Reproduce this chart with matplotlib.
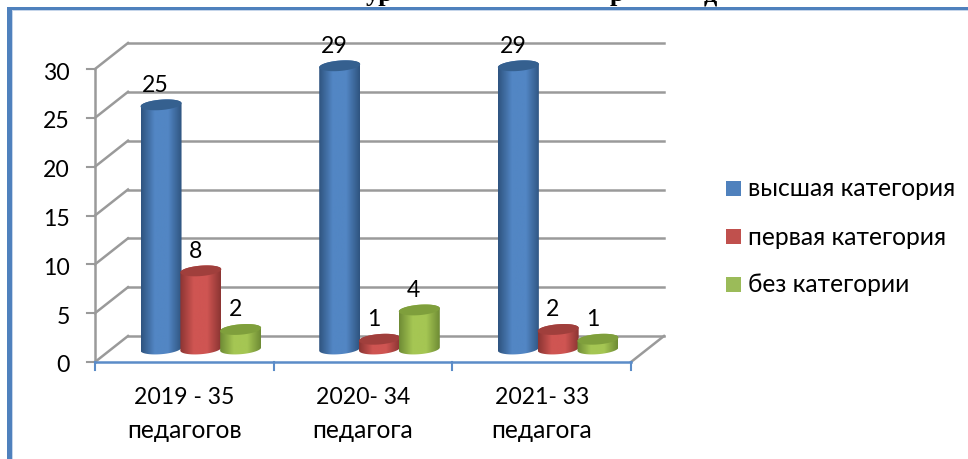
import numpy as np
import matplotlib
matplotlib.use('Agg')
import matplotlib.pyplot as plt
from matplotlib.path import Path
from matplotlib.patches import PathPatch, Rectangle
from matplotlib.colors import LinearSegmentedColormap

cat_years = ['2019 - 35', '2020- 34', '2021- 33']
cat_words = ['педагогов', 'педагога', 'педагога']
series_names = ['высшая категория', 'первая категория', 'без категории']
vysshaya = [25, 29, 29]
pervaya = [8, 1, 2]
bez_kat = [2, 4, 1]
yticks = [0, 5, 10, 15, 20, 25, 30]

# edge, middle, cap, legend colour of each series
palette = [('#2f5480', '#5286c4', '#35608f', '#4f81bd'),
           ('#8c3533', '#cf5552', '#a03f3c', '#c0504d'),
           ('#6f8c35', '#a5c653', '#7f9f3c', '#9bbb59')]

W, H = 968, 459
plt.rcParams['font.family'] = ['Lato', 'Open Sans']
FS_NUM = 16.6
FS_TXT = 17.7
fig = plt.figure(figsize=(W / 100, H / 100), dpi=100)

# bottoms of the heading letters, cut off by the picture edge
for xp, s in [(366, 'ур'), (610, 'р'), (704, 'д')]:
    fig.text(xp / W, 1 - 1 / H, s, family='Liberation Serif', weight='bold', fontsize=19,
             ha='left', va='baseline')

# page frame
fig.add_artist(Rectangle((12 / W, 0), 1 / W, 1 - 10 / H, color='#c5d5ea', lw=0))
fig.add_artist(Rectangle((12 / W, 1 - 11 / H), 1 - 12 / W, 1 / H, color='#c5d5ea', lw=0))
fig.add_artist(Rectangle((7 / W, 0), 5 / W, 1 - 7 / H, color='#4f81bd', lw=0))
fig.add_artist(Rectangle((7 / W, 1 - 10 / H), 1 - 7 / W, 3 / H, color='#4f81bd', lw=0))

# axes = front plane of the 3d box, y range goes on above 30 so the tallest bars fit
x0, x1, y0, y30 = 95, 631, 362, 69
ymax = 35
ppu = (y0 - y30) / 30
ax = fig.add_axes([x0 / W, 1 - y0 / H, (x1 - x0) / W, ymax * ppu / H])
ax.set_xlim(0, 3)
ax.set_ylim(0, ymax)
ax.axis('off')

px = 3 / (x1 - x0)      # data units per pixel
py = 1 / ppu
dx, dy = 33 * px, 26 * py   # depth of the box

grid = '#9a9a9a'
for v in yticks:
    ax.plot([0, dx], [v, v + dy], color=grid, lw=1.8, clip_on=False, zorder=1)
    ax.plot([dx, 3 + dx], [v + dy, v + dy], color=grid, lw=1.8, clip_on=False, zorder=1)
    ax.plot([-8 * px, 0], [v, v], color=grid, lw=1.5, clip_on=False, zorder=1)
    ax.text(-25 * px, v - 4 * py, str(v), ha='right', va='center', fontsize=FS_NUM)
ax.plot([0, 0], [0, 30], color=grid, lw=1.8, clip_on=False, zorder=1)
ax.plot([3, 3 + dx], [0, dy], color=grid, lw=1.8, clip_on=False, zorder=1)
ax.plot([0, 3], [0, 0], color='#5b8cc8', lw=1.8, clip_on=False, zorder=2)
for i in range(4):
    ax.plot([i, i], [0, -8 * py], color='#5b8cc8', lw=1.5, clip_on=False, zorder=2)
for i in range(3):
    ax.text(i + 0.5, -36 * py, cat_years[i], ha='center', va='center', fontsize=FS_NUM, clip_on=False)
    ax.text(i + 0.5, -69 * py, cat_words[i], ha='center', va='center', fontsize=FS_TXT, clip_on=False)


def cylinder(xc, val, cols, z):
    w = 20.5 * px
    b = 5.2 * py
    shear = 1.6 * py
    base = 13 * py
    t = np.linspace(0, 2 * np.pi, 80)
    ex = w * np.cos(t)
    ey = b * np.sin(t) + shear * np.cos(t)
    cmap = LinearSegmentedColormap.from_list('c', [cols[0], cols[1], cols[1], cols[0]])
    grad = np.linspace(0, 1, 64).reshape(1, -1)
    im = ax.imshow(grad, cmap=cmap, extent=[xc - w, xc + w, base - 2 * b, base + val + 2 * b],
                   aspect='auto', zorder=z)
    lower = t[40:]
    bx = xc + w * np.cos(lower)
    by = base + b * np.sin(lower) + shear * np.cos(lower)
    upper = t[:41]
    # outline: bottom half of the base, then the far edge of the top
    ox = np.r_[bx, xc + w * np.cos(upper)]
    oy = np.r_[by, base + val + b * np.sin(upper) + shear * np.cos(upper)]
    verts = np.c_[ox, oy]
    clip = PathPatch(Path(np.r_[verts, verts[:1]]), transform=ax.transData, fc='none', ec='none')
    ax.add_patch(clip)
    im.set_clip_path(clip)
    ax.fill(xc + ex, base + val + ey, color=cols[2], lw=0, zorder=z + 0.1)


base_lbl = 13 * py
for s, vals in enumerate([vysshaya, pervaya, bez_kat]):
    for i, v in enumerate(vals):
        xc = i + 0.5 + dx / 2 + (s - 1) * 39.8 * px
        cylinder(xc, v, palette[s], 3 + s)
        ax.text(xc - 5.5 * px, v + base_lbl + 19.5 * py, str(v), ha='center', va='center',
                fontsize=FS_NUM, zorder=10)

# legend
for s, name in enumerate(series_names):
    yc = 188.5 + s * 48
    fig.add_artist(Rectangle((726 / W, 1 - (yc + 7.5) / H), 15 / W, 15 / H, color=palette[s][3], lw=0))
    fig.text(748 / W, 1 - (yc + 0.5) / H, name, ha='left', va='center', fontsize=FS_TXT)

fig.savefig('out.png', dpi=100)
